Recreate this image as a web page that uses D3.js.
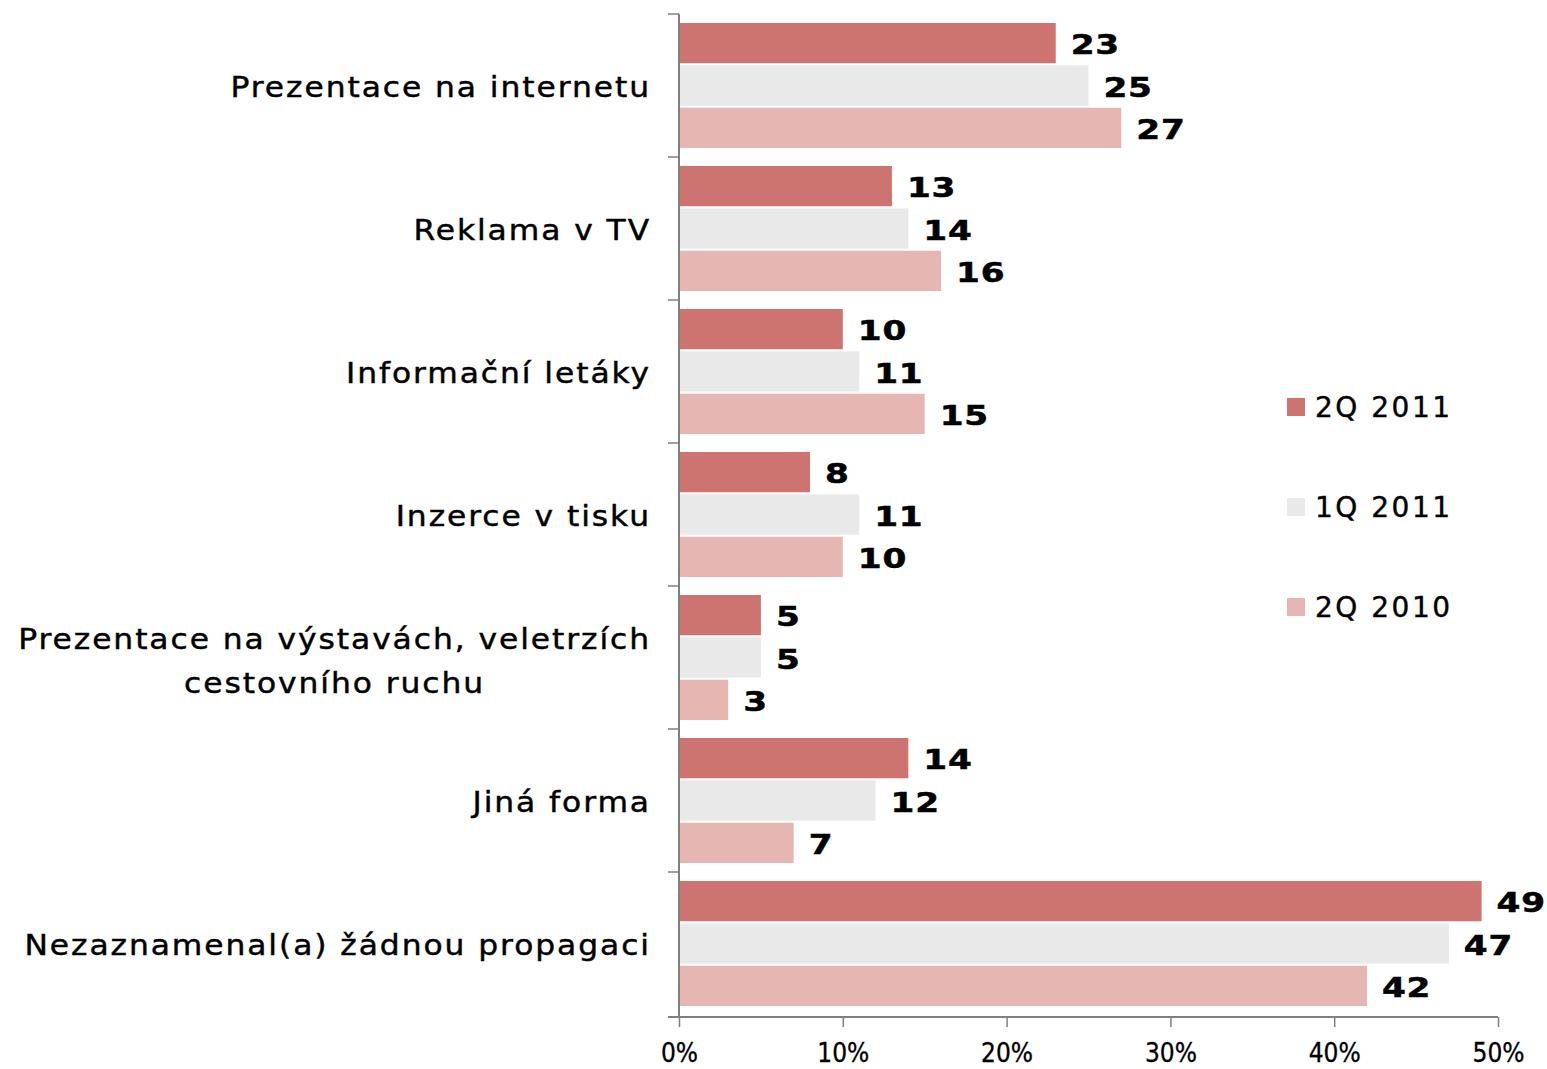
<!DOCTYPE html>
<html>
<head>
<meta charset="utf-8">
<script src="https://cdn.jsdelivr.net/npm/d3@7"></script>
<style>
  html, body { margin: 0; padding: 0; background: #fff; }
  svg { display: block; }
  text { font-family: "DejaVu Sans", Verdana, sans-serif; fill: #000; }
</style>
</head>
<body>
<svg id="chart" width="1547" height="1069"></svg>
<script>
// Categories (top to bottom) and survey series, values in %
const categories = [
  "Prezentace na internetu",
  "Reklama v TV",
  "Informační letáky",
  "Inzerce v tisku",
  "Prezentace na výstavách, veletrzích|cestovního ruchu",
  "Jiná forma",
  "Nezaznamenal(a) žádnou propagaci"
];
const seriesNames = ["2Q 2011", "1Q 2011", "2Q 2010"];
const q2_2011 = [23, 13, 10, 8, 5, 14, 49];
const q1_2011 = [25, 14, 11, 11, 5, 12, 47];
const q2_2010 = [27, 16, 15, 10, 3, 7, 42];
const seriesValues = [q2_2011, q1_2011, q2_2010];
const seriesColors = ["#cd7470", "#e9e9e9", "#e6b7b2"];
const xTicks = [0, 10, 20, 30, 40, 50];

const svg = d3.select("#chart");

const x = d3.scaleLinear().domain([0, 50]).range([679, 1498]);
const y = d3.scaleBand().domain(categories).range([14, 1015])
  .paddingInner(0.126).paddingOuter(0.063);
const ySub = d3.scaleBand().domain(seriesNames).range([0, y.bandwidth()])
  .paddingInner(0.05).paddingOuter(0);

// Bars and value labels
const rows = categories.map((c, i) => ({
  cat: c,
  vals: seriesNames.map((s, k) => ({ s, k, v: seriesValues[k][i] }))
}));

const groups = svg.append("g").selectAll("g").data(rows).join("g")
  .attr("transform", d => `translate(0,${y(d.cat)})`);

groups.selectAll("rect").data(d => d.vals).join("rect")
  .attr("x", x(0) + 1)
  .attr("y", d => ySub(d.s))
  .attr("width", d => x(d.v) - x(0) - 1)
  .attr("height", ySub.bandwidth())
  .attr("fill", d => seriesColors[d.k]);

// wide bold value labels (horizontally stretched)
groups.selectAll("g.val").data(d => d.vals).join("g")
  .attr("class", "val")
  .attr("transform", d => `translate(${x(d.v) + 15},${ySub(d.s) + ySub.bandwidth() / 2}) scale(1.27,1)`)
  .append("text")
  .attr("dy", "0.42em")
  .style("font-size", "27px")
  .style("font-weight", "bold")
  .style("letter-spacing", "0.6px")
  .style("stroke", "#000").style("stroke-width", "0.5px")
  .text(d => d.v);

// Category labels (right-aligned block, wrapped lines centred)
const labelRight = 650;
const catScale = 1.08;
svg.append("g").selectAll("g.cat").data(categories).join("g")
  .attr("class", "cat")
  .each(function (d) {
    const lines = d.split("|");
    const cy = y(d) + y.bandwidth() / 2 + 1;
    const lh = 44;
    const g = d3.select(this)
      .attr("transform", `translate(${labelRight + 1},${cy}) scale(${catScale},1)`);
    const t = g.append("text")
      .style("font-size", "29px")
      .style("letter-spacing", "1.8px")
      .style("stroke", "#000").style("stroke-width", "0.45px");
    if (lines.length === 1) {
      t.attr("text-anchor", "end").attr("dy", "0.36em").text(lines[0]);
    } else {
      const spans = lines.map((l, j) => t.append("tspan")
        .attr("y", (j - (lines.length - 1) / 2) * lh + 2)
        .attr("dy", "0.36em").text(l));
      const w = d3.max(spans, s => s.node().getComputedTextLength());
      t.attr("text-anchor", "middle");
      spans.forEach(s => s.attr("x", -w / 2));
    }
  });

// Vertical category axis with ticks at band boundaries
const axisColor = "#7f7f7f";
const boundaries = categories.map(c => y(c) - y.step() * y.paddingInner() / 2);
svg.append("line")
  .attr("x1", x(0)).attr("x2", x(0)).attr("y1", 14).attr("y2", 1017)
  .attr("stroke", axisColor).attr("stroke-width", 2);
svg.append("g").selectAll("line").data(boundaries).join("line")
  .attr("x1", x(0) - 11).attr("x2", x(0))
  .attr("y1", d => d).attr("y2", d => d)
  .attr("stroke", axisColor).attr("stroke-width", 1.5);

// Horizontal value axis
const xAxis = d3.axisBottom(x).tickValues(xTicks)
  .tickFormat(d => d + "%").tickSizeInner(10).tickSizeOuter(0).tickPadding(20);
const gx = svg.append("g").attr("transform", "translate(0,1017)").call(xAxis);
gx.select(".domain").attr("d", `M${x(0) - 11},0H${x(50)}`)
  .attr("stroke", axisColor).attr("stroke-width", 2);
gx.selectAll(".tick line").attr("stroke", axisColor).attr("stroke-width", 1.5);
gx.selectAll(".tick text")
  .attr("y", 45).attr("dy", null)
  .style("font-family", "'DejaVu Sans Condensed', 'Liberation Sans Narrow', sans-serif")
  .style("font-size", "26px")
  .style("stroke", "#000").style("stroke-width", "0.3px")
  .attr("fill", "#000");

// Legend
const legend = svg.append("g").selectAll("g").data(seriesNames).join("g")
  .attr("transform", (d, i) => `translate(1287,${407 + i * 100})`);
legend.append("rect")
  .attr("x", 0).attr("y", -9).attr("width", 18).attr("height", 18)
  .attr("fill", (d, i) => seriesColors[i]);
legend.append("text")
  .attr("x", 28).attr("y", 0).attr("dy", "0.36em")
  .style("font-size", "28px").style("letter-spacing", "2.5px")
  .style("stroke", "#000").style("stroke-width", "0.4px")
  .text(d => d);
</script>
</body>
</html>
